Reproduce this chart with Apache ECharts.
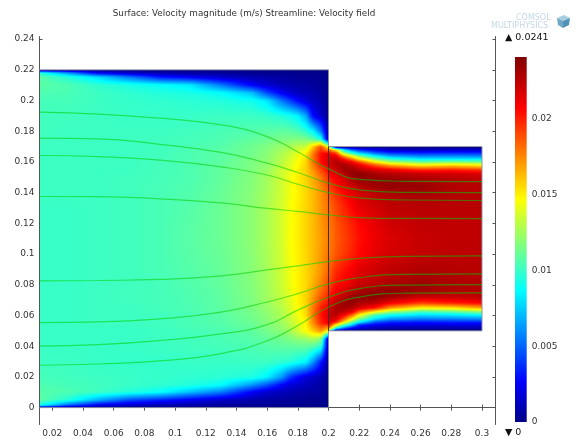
<!DOCTYPE html>
<html><head><meta charset="utf-8">
<style>html,body{margin:0;padding:0;background:#fff}#c{width:577px;height:442px}</style>
<script src="https://cdn.jsdelivr.net/npm/echarts@6/dist/echarts.min.js"></script>
</head><body><div id="c"></div>
<script>
// ---------- chart text and ticks ----------
const titleText = 'Surface: Velocity magnitude (m/s) Streamline: Velocity field';
const xTicks = [0.02,0.04,0.06,0.08,0.1,0.12,0.14,0.16,0.18,0.2,0.22,0.24,0.26,0.28,0.3];
const yTicks = [0,0.02,0.04,0.06,0.08,0.1,0.12,0.14,0.16,0.18,0.2,0.22,0.24];
const barTicks = [0,0.005,0.01,0.015,0.02];
const speedMax = 0.0241;
const rampPos = [0,0.11,0.36,0.61,0.86,1];
const rampRGB = [[0,0,135],[0,0,255],[0,255,255],[255,255,0],[255,0,0],[128,0,0]];

// ---------- speed read from the wide inlet section ----------
const inletX = [0.0117,0.03,0.05,0.07,0.09,0.11,0.13,0.15,0.16,0.17,0.175,0.18,0.185,0.19,0.195,0.2];
const inletY = [0.22,0.218,0.215,0.21,0.205,0.2,0.19,0.18,0.175,0.17,0.165,0.16,0.155,0.15,0.14,0.13,0.11,0.09,0.08,0.07,0.065,0.06,0.055,0.05,0.045,0.04,0.03,0.02,0.015,0.01,0.005,0.002,0];
const inletSpeed = [
[0,0,0,0,0,0,0,0,0,0,0,0,0,0,0,0],
[.0095,.0062,.0025,.0014,.0008,.0006,.0004,.0003,.0002,.0002,.0002,.0001,.0001,.0001,.0001,0],
[.0108,.0095,.0078,.0055,.0032,.0024,.0014,.0008,.0007,.0005,.0004,.0003,.0003,.0002,.0002,0],
[.0108,.0105,.0098,.0093,.0088,.0082,.0055,.0026,.0016,.001,.0008,.0007,.0006,.0005,.0003,0],
[.0105,.0104,.0101,.0098,.0095,.0093,.0088,.0072,.0044,.0024,.0017,.0012,.001,.0008,.0005,0],
[.0103,.0103,.0101,.0099,.0098,.0097,.0095,.0091,.0082,.0055,.0042,.0028,.0018,.0012,.0008,0],
[.0102,.0102,.0101,.01,.01,.01,.0101,.0101,.0099,.0095,.0091,.0084,.0066,.0028,.0014,0],
[.0102,.0101,.0101,.0101,.0101,.0102,.0104,.0106,.0108,.0109,.0108,.0105,.0097,.0085,.0055,0],
[.0102,.0101,.0101,.0101,.0102,.0103,.0105,.0109,.0112,.0115,.0116,.0117,.0115,.0108,.0092,0],
[.0101,.0101,.0101,.0101,.0102,.0104,.0107,.0113,.0117,.0123,.0127,.0132,.0135,.016,.019,.0145],
[.0101,.0101,.0101,.0101,.0102,.0105,.0108,.0114,.0119,.0128,.0134,.0142,.0152,.0178,.0205,.0215],
[.0101,.0101,.0101,.0101,.0103,.0105,.0109,.0116,.012,.0131,.0138,.0147,.0157,.018,.0205,.022],
[.0101,.0101,.0101,.0101,.0103,.0105,.011,.0117,.0123,.0135,.0141,.015,.0158,.0172,.019,.0208],
[.0101,.0101,.0101,.0102,.0103,.0105,.011,.0118,.0125,.0136,.0143,.0151,.0157,.0167,.018,.0197],
[.0101,.0101,.0101,.0102,.0104,.0106,.0111,.0119,.0126,.0136,.0144,.015,.0156,.0163,.0172,.0185],
[.01,.01,.0101,.0102,.0104,.0107,.0112,.012,.0127,.0137,.0145,.0151,.0157,.0163,.0172,.0181],
[.01,.01,.0101,.0102,.0104,.0108,.0112,.012,.0127,.0137,.0146,.0151,.0157,.0163,.017,.0178],
[.01,.01,.0101,.0102,.0104,.0107,.0111,.0119,.0126,.0136,.0144,.015,.0156,.0163,.0172,.0184],
[.01,.01,.0101,.0102,.0103,.0106,.011,.0118,.0125,.0135,.0143,.015,.0156,.0165,.0177,.0192],
[.01,.01,.0101,.0102,.0103,.0105,.0109,.0117,.0124,.0133,.014,.0149,.0157,.0172,.019,.0202],
[.01,.01,.0101,.0101,.0103,.0105,.0109,.0116,.0122,.013,.0138,.0147,.0157,.0178,.02,.0212],
[.01,.01,.0101,.0101,.0102,.0104,.0108,.0114,.012,.0128,.0135,.0144,.0155,.0179,.0203,.0218],
[.01,.01,.0101,.0101,.0102,.0104,.0107,.0112,.0118,.0124,.0131,.014,.0149,.0174,.0198,.0212],
[.01,.01,.01,.01,.0101,.0103,.0105,.0109,.0114,.012,.0126,.0136,.0146,.0158,.0172,.0145],
[.01,.01,.01,.01,.0101,.0102,.0104,.0107,.011,.0113,.0116,.012,.0122,.0128,.0118,0],
[.01,.01,.01,.01,.0101,.0102,.0103,.0105,.0107,.0109,.011,.0111,.0111,.0108,.0098,0],
[.0101,.0101,.01,.0099,.0099,.01,.01,.0101,.0101,.0098,.0096,.009,.0085,.0062,.0032,0],
[.0103,.0102,.0101,.01,.0099,.0098,.0097,.0094,.0085,.0062,.004,.0028,.0018,.0014,.001,0],
[.0105,.0103,.0102,.01,.0098,.0095,.0087,.0062,.0046,.0026,.0018,.0015,.0012,.0009,.0007,0],
[.0107,.0105,.0101,.0095,.0088,.0072,.0056,.0026,.0016,.0012,.001,.0008,.0007,.0006,.0005,0],
[.0108,.0095,.0068,.0045,.0034,.0024,.0014,.0008,.0007,.0005,.0004,.0004,.0003,.0003,.0002,0],
[.0092,.0052,.0025,.0016,.001,.0008,.0005,.0003,.0003,.0002,.0002,.0002,.0001,.0001,.0001,0],
[0,0,0,0,0,0,0,0,0,0,0,0,0,0,0,0]
];

// ---------- speed read from the narrow outlet section ----------
const outletX = [0.2,0.205,0.21,0.215,0.22,0.23,0.24,0.26,0.28,0.3];
const outletY = [0.17,0.168,0.166,0.164,0.162,0.16,0.158,0.155,0.152,0.148,0.144,0.14,0.135,0.13,0.12,0.11,0.1,0.09,0.085,0.08,0.076,0.072,0.068,0.065,0.062,0.06,0.058,0.056,0.054,0.052,0.05];
const outletSpeed = [
[.0135,0,0,0,0,0,0,0,0,0],
[.0185,.015,.0087,.0055,.0038,.0024,.0014,.0012,.0015,.0015],
[.0205,.0192,.0124,.0095,.0076,.0051,.0038,.0034,.0036,.0036],
[.0215,.0212,.017,.0143,.0117,.0084,.0066,.0057,.0059,.0057],
[.0218,.0222,.0203,.0177,.0152,.0117,.0095,.0082,.0082,.0082],
[.0218,.0228,.022,.0209,.019,.0151,.0128,.0113,.0117,.0113],
[.0216,.0226,.0231,.0222,.0213,.0186,.0165,.0147,.0155,.0147],
[.0212,.0222,.0232,.0234,.0228,.0218,.0212,.0199,.0201,.0195],
[.0206,.0216,.0226,.0235,.0238,.0231,.0227,.0223,.0221,.0217],
[.0199,.0208,.0218,.0228,.0235,.0236,.0236,.0231,.0227,.0224],
[.0192,.0203,.0212,.022,.0226,.0232,.0235,.0234,.0228,.0226],
[.0187,.0198,.0207,.0214,.022,.0226,.023,.0232,.0228,.0226],
[.0184,.0194,.0202,.021,.0216,.0222,.0226,.0228,.0227,.0226],
[.0181,.0191,.0199,.0207,.0213,.0219,.0224,.0226,.0226,.0226],
[.0178,.0187,.0194,.02,.0206,.0214,.022,.0224,.0224,.0224],
[.0177,.0186,.0192,.0198,.0204,.0212,.0217,.0222,.0224,.0224],
[.0178,.0187,.0194,.02,.0206,.0214,.0219,.0223,.0225,.0225],
[.0184,.0197,.0203,.0209,.0215,.022,.0224,.0228,.0227,.0226],
[.0187,.02,.0206,.0212,.0218,.0222,.0226,.023,.0228,.0227],
[.0191,.0205,.021,.0216,.0222,.0226,.023,.0234,.0229,.0227],
[.0196,.021,.0216,.0225,.023,.0235,.0237,.0233,.0228,.0227],
[.0203,.0218,.0226,.0234,.0238,.0237,.0232,.0222,.0222,.0225],
[.0211,.0226,.0234,.0236,.023,.0225,.0211,.0193,.02,.0207],
[.0216,.023,.0232,.0228,.0217,.0202,.0172,.0148,.0152,.0167],
[.022,.0229,.0224,.0212,.0182,.0147,.0122,.0102,.0107,.0117],
[.0222,.0225,.021,.0185,.015,.0105,.009,.008,.0082,.0087],
[.022,.0216,.0185,.0147,.0118,.008,.0063,.0055,.0057,.006],
[.0216,.02,.0155,.0115,.0087,.0048,.0037,.0033,.0035,.0035],
[.0205,.015,.0105,.0075,.0037,.0025,.0021,.002,.002,.002],
[.018,.0095,.0055,.0028,.0018,.001,.0008,.0008,.0008,.0008],
[.0125,0,0,0,0,0,0,0,0,0]
];

// ---------- streamlines ----------
const streamX = [0.0117,0.05,0.09,0.13,0.16,0.18,0.2,0.22,0.25,0.3];
const stream1 = [.1924,.1912,.1885,.1842,.1765,.1665,.1555,.1486,.1474,.1472];
const stream2 = [.1755,.175,.1715,.1662,.1592,.1531,.1462,.1418,.1402,.14];
const stream3 = [.1642,.1635,.1612,.1568,.1515,.1455,.14,.1366,.1352,.1349];
const stream4 = [.1375,.1374,.136,.1333,.1297,.1278,.1255,.1238,.1232,.1231];
const stream5 = [.0825,.0828,.0835,.0858,.0897,.0923,.0951,.0972,.0985,.0988];
const stream6 = [.0554,.0558,.0578,.0622,.0688,.0742,.0806,.0846,.0868,.0871];
const stream7 = [.04,.041,.0437,.048,.054,.0635,.0719,.0775,.0798,.0801];
const stream8 = [.0276,.0284,.0304,.0352,.0435,.0535,.0655,.072,.0745,.0747];
const streams = [stream1,stream2,stream3,stream4,stream5,stream6,stream7,stream8];

// ---------- domain outline ----------
const wallX = [0.3,0.3,0.2,0.2,0.0117];
const wallY = [0.17,0.05,0.05,0,0];
const wallTopX = [0.0117,0.2,0.2,0.3];
const wallTopY = [0.22,0.22,0.17,0.17];
const throatX = [0.2,0.2];
const throatY = [0.05,0.17];

// ---------- helpers ----------
function ramp(v){
  const t=Math.max(0,Math.min(1,v/speedMax));
  let i=0; while(i<rampPos.length-2 && t>rampPos[i+1]) i++;
  const f=(t-rampPos[i])/(rampPos[i+1]-rampPos[i]);
  return rampRGB[i].map((c,k)=>c+(rampRGB[i+1][k]-c)*f);
}
function cellsOf(xs,ys,rows){
  const out=[];
  for(let j=0;j<ys.length-1;j++) for(let i=0;i<xs.length-1;i++){
    out.push([xs[i],xs[i+1],ys[j+1],ys[j],rows[j+1][i],rows[j+1][i+1],rows[j][i],rows[j][i+1]]);
  }
  return out;
}
function renderCell(params,api){
  const x0=api.value(0),x1=api.value(1),y0=api.value(2),y1=api.value(3);
  const vll=api.value(4),vlr=api.value(5),vul=api.value(6),vur=api.value(7);
  const a=api.coord([x0,y1]),b=api.coord([x1,y0]);
  const X0=Math.round(a[0]),Y0=Math.round(a[1]),X1=Math.round(b[0]),Y1=Math.round(b[1]);
  const w=Math.max(1,X1-X0),h=Math.max(1,Y1-Y0);
  const cv=document.createElement('canvas');cv.width=w;cv.height=h;
  const g=cv.getContext('2d'),im=g.createImageData(w,h);
  for(let py=0;py<h;py++){const s=(py+.5)/h;
    for(let px=0;px<w;px++){const u=(px+.5)/w;
      const top=vul+(vur-vul)*u,bot=vll+(vlr-vll)*u;
      const c=ramp(top+(bot-top)*s),o=(py*w+px)*4;
      im.data[o]=c[0];im.data[o+1]=c[1];im.data[o+2]=c[2];im.data[o+3]=255;
    }}
  g.putImageData(im,0,0);
  return {type:'image',silent:true,style:{image:cv,x:X0,y:Y0,width:w,height:h}};
}
function renderBar(params,api){
  const a=api.coord([0,api.value(1)]),b=api.coord([1,api.value(0)]);
  const stops=rampPos.map((p,i)=>({offset:1-p,color:'rgb('+rampRGB[i].join(',')+')'})).reverse();
  return {type:'rect',silent:true,shape:{x:a[0],y:a[1],width:b[0]-a[0],height:b[1]-a[1]},
    style:{fill:new echarts.graphic.LinearGradient(0,0,0,1,stops)}};
}
const axisCol='#555', textCol='#333', fs=9, ff='"DejaVu Sans",sans-serif';
const X_MIN=0.01166,X_MAX=0.3088,Y_MIN=-0.011,Y_MAX=0.2417;
function plainLine(name,xs,ys,color,width){
  return {name,type:'line',xAxisIndex:0,yAxisIndex:0,showSymbol:false,silent:true,animation:false,z:6,
    data:xs.map((x,i)=>[x,ys[i]]),lineStyle:{color,width},itemStyle:{color}};
}
const chart=echarts.init(document.getElementById('c'),null,{renderer:'canvas'});
chart.setOption({
  animation:false,
  backgroundColor:'#fff',
  title:{text:titleText,left:239,textAlign:'center',top:4,textStyle:{fontFamily:ff,fontSize:8.8,fontWeight:'normal',color:textCol}},
  grid:[{left:39.5,top:36.5,width:456,height:388},{left:515,top:57,width:11.7,height:365}],
  xAxis:[
    {type:'value',gridIndex:0,min:X_MIN,max:X_MAX,position:'bottom',splitLine:{show:false},
     axisLine:{lineStyle:{color:axisCol}},axisTick:{inside:true,length:3,customValues:xTicks,lineStyle:{color:axisCol}},
     axisLabel:{customValues:xTicks,margin:5,fontSize:fs,fontFamily:ff,color:textCol,formatter:v=>String(v)}},
    {type:'value',gridIndex:0,min:X_MIN,max:X_MAX,position:'top',splitLine:{show:false},
     axisLine:{lineStyle:{color:axisCol}},axisTick:{inside:true,length:3,customValues:xTicks,lineStyle:{color:axisCol}},
     axisLabel:{show:false}},
    {type:'value',gridIndex:1,min:0,max:1,show:false}
  ],
  yAxis:[
    {type:'value',gridIndex:0,min:Y_MIN,max:Y_MAX,position:'left',splitLine:{show:false},
     axisLine:{lineStyle:{color:axisCol}},axisTick:{inside:true,length:3,customValues:yTicks,lineStyle:{color:axisCol}},
     axisLabel:{customValues:yTicks,margin:5,fontSize:fs,fontFamily:ff,color:textCol,formatter:v=>String(v)}},
    {type:'value',gridIndex:0,min:Y_MIN,max:Y_MAX,position:'right',splitLine:{show:false},
     axisLine:{lineStyle:{color:axisCol}},axisTick:{inside:true,length:3,customValues:yTicks,lineStyle:{color:axisCol}},
     axisLabel:{show:false}},
    {type:'value',gridIndex:1,min:0,max:speedMax,position:'right',splitLine:{show:false},
     axisLine:{show:false},axisTick:{show:false},
     axisLabel:{customValues:barTicks,margin:5,fontSize:fs,fontFamily:ff,color:textCol,formatter:v=>String(v)}}
  ],
  series:[
    {name:'Velocity magnitude inlet',type:'custom',xAxisIndex:0,yAxisIndex:0,renderItem:renderCell,clip:false,silent:true,z:2,
     encode:{x:[0,1],y:[2,3]},data:cellsOf(inletX,inletY,inletSpeed)},
    {name:'Velocity magnitude outlet',type:'custom',xAxisIndex:0,yAxisIndex:0,renderItem:renderCell,clip:false,silent:true,z:3,
     encode:{x:[0,1],y:[2,3]},data:cellsOf(outletX,outletY,outletSpeed)},
    plainLine('Wall lower',wallX,wallY,'#8d8fa6',1),
    plainLine('Wall upper',wallTopX,wallTopY,'#8d8fa6',1),
    plainLine('Throat',throatX,throatY,'#3a3030',1),
    ...streams.map((s,i)=>Object.assign(plainLine('Streamline '+(i+1),streamX,s,'rgba(0,205,0,0.55)',1.2),{smooth:0.5,z:7})),
    {name:'Colour bar',type:'custom',xAxisIndex:2,yAxisIndex:2,renderItem:renderBar,silent:true,encode:{y:[0,1]},data:[[0,speedMax]]}
  ],
  graphic:[
    {type:'text',left:505,top:33,style:{text:'▲ 0.0241',fontSize:9.5,fontFamily:ff,fill:'#111'}},
    {type:'text',left:505,top:428,style:{text:'▼ 0',fontSize:9.5,fontFamily:ff,fill:'#111'}},
    {type:'text',left:516,top:14,style:{text:'COMSOL',fontSize:8,fontFamily:ff,fill:'#c3d8e4'}},
    {type:'text',left:491,top:21.5,style:{text:'MULTIPHYSICS',fontSize:8,fontFamily:ff,fill:'#c3d8e4'}},
    {type:'polygon',shape:{points:[[557,18],[564,15],[570,18],[563,21]]},style:{fill:'#a8cfe0'}},
    {type:'polygon',shape:{points:[[557,18],[563,21],[563,28],[558,25]]},style:{fill:'#6ea8c6'}},
    {type:'polygon',shape:{points:[[563,21],[570,18],[569,25],[563,28]]},style:{fill:'#4f93b8'}}
  ]
});
</script></body></html>
